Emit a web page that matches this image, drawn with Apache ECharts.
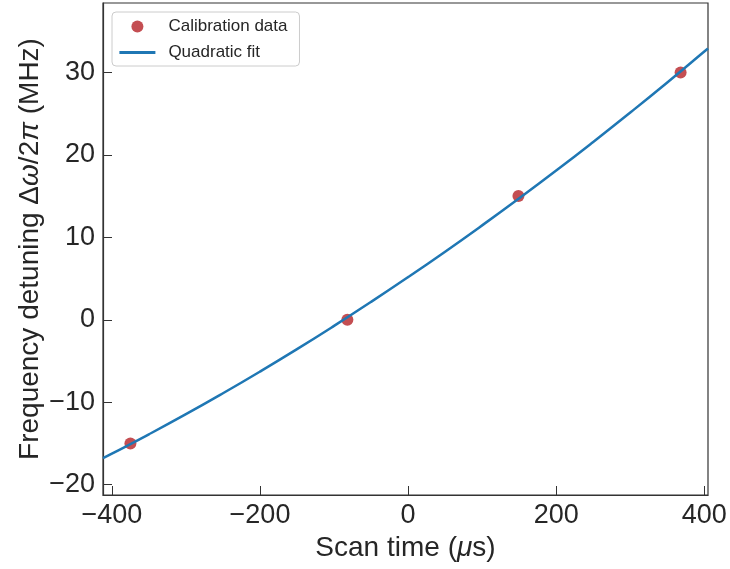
<!DOCTYPE html>
<html><head><meta charset="utf-8">
<script src="https://cdn.jsdelivr.net/npm/echarts@6/dist/echarts.min.js"></script>
<style>html,body{margin:0;padding:0;background:#fff}#c{width:730px;height:569px}</style>
</head><body><div id="c"></div>
<script>
// Calibration data (scan time in µs, detuning in MHz)
const calibX = [-375, -82, 149, 368];
const calibY = [-15, 0, 15, 30];
// Quadratic fit curve
const fitX = [-412, -400, -350, -300, -250, -200, -150, -100, -50, 0, 50, 100, 150, 200, 250, 300, 350, 400, 405];
const fitY = [-16.79, -16.24, -13.89, -11.45, -8.91, -6.28, -3.56, -0.74, 2.17, 5.17, 8.26, 11.45, 14.73, 18.10, 21.57, 25.13, 28.78, 32.53, 32.91];
const xTicks = [-400, -200, 0, 200, 400];
const yTicks = [-20, -10, 0, 10, 20, 30];

const FONT = "'Liberation Sans', Arial, sans-serif";
const TXT = '#262626';
const fmt = v => String(v).replace('-', '\u2212');

const chart = echarts.init(document.getElementById('c'), null, {renderer: 'canvas'});
chart.setOption({
  animation: false,
  backgroundColor: '#fff',
  grid: {left: 103, right: 22, top: 3, bottom: 74, show: true, borderColor: '#333', borderWidth: 1.2, backgroundColor: 'transparent'},
  legend: {
    orient: 'vertical', left: 112, top: 12,
    padding: [6, 12, 5, 6],
    backgroundColor: '#fff', borderColor: '#ccc', borderWidth: 1, borderRadius: 4,
    itemWidth: 36, itemHeight: 12, itemGap: 9,
    textStyle: {fontFamily: FONT, fontSize: 17, color: TXT, padding: [0, 0, 0, 8]},
    data: [
      {name: 'Calibration data', icon: 'circle'},
      {name: 'Quadratic fit', itemStyle: {opacity: 0, color: 'transparent', borderWidth: 0}, lineStyle: {width: 2.8, color: '#1f77b4'}}
    ]
  },
  xAxis: {
    type: 'value', min: -412, max: 405,
    name: 'Scan time ({i|\u03bc}s)', nameLocation: 'middle', nameGap: 36,
    nameTextStyle: {fontFamily: FONT, fontSize: 28, color: TXT, rich: {i: {fontFamily: FONT, fontSize: 28, fontStyle: 'italic', color: TXT}}},
    axisLine: {show: true, onZero: false, lineStyle: {color: '#333', width: 1.2}},
    axisTick: {show: true, inside: true, length: 9, customValues: xTicks, lineStyle: {color: '#333', width: 1}},
    axisLabel: {customValues: xTicks, formatter: fmt, fontFamily: FONT, fontSize: 27, color: TXT, margin: 7},
    splitLine: {show: false}
  },
  yAxis: {
    type: 'value', min: -21.25, max: 38.42,
    name: 'Frequency detuning \u0394{i|\u03c9}/2{i|\u03c0} (MHz)', nameLocation: 'middle', nameGap: 59, nameRotate: 90,
    nameMoveOverlap: false,
    nameTextStyle: {fontFamily: FONT, fontSize: 28, color: TXT, rich: {i: {fontFamily: FONT, fontSize: 28, fontStyle: 'italic', color: TXT}}},
    axisLine: {show: true, onZero: false, lineStyle: {color: '#333', width: 1.2}},
    axisTick: {show: true, inside: true, length: 9, customValues: yTicks, lineStyle: {color: '#333', width: 1}},
    axisLabel: {customValues: yTicks, formatter: fmt, fontFamily: FONT, fontSize: 27, color: TXT, margin: 8},
    splitLine: {show: false}
  },
  series: [
    {
      name: 'Calibration data', type: 'scatter', symbol: 'circle', symbolSize: 12, z: 3,
      itemStyle: {color: '#c44e52', opacity: 1},
      data: calibX.map((x, i) => [x, calibY[i]])
    },
    {
      name: 'Quadratic fit', type: 'line', symbol: 'none', smooth: true, z: 4,
      lineStyle: {color: '#1f77b4', width: 2.5},
      itemStyle: {color: '#1f77b4'},
      data: fitX.map((x, i) => [x, fitY[i]])
    }
  ]
});
</script></body></html>
